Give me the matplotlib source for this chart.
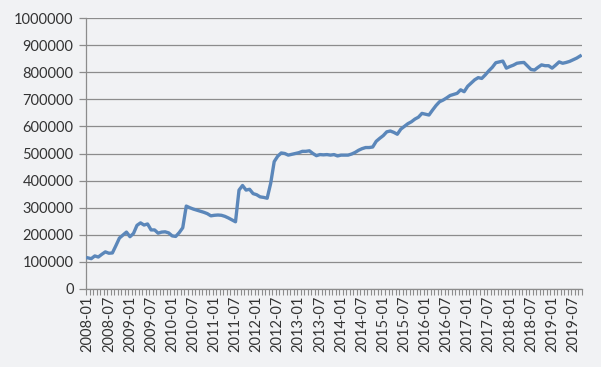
import numpy as np
import pandas as pd
import matplotlib
matplotlib.use("Agg")
import matplotlib.pyplot as plt

# monthly values, 2008-01 .. 2019-09 (thousands)
months = pd.period_range("2008-01", "2019-09", freq="M").strftime("%Y-%m").tolist()
values_k = [
    115, 112, 122, 118, 128, 137, 132, 133, 160, 188, 199, 210,
    193, 205, 235, 244, 236, 240, 218, 218, 206, 210, 211, 207,
    196, 194, 208, 226, 306, 300, 295, 291, 287, 283, 278, 270,
    272, 273, 272, 268, 262, 255, 248, 365, 382, 365, 368, 352,
    348, 340, 338, 335, 390, 470, 490, 502, 500, 494, 497, 500,
    503, 508, 508, 510, 500, 492, 496, 495, 496, 494, 496, 491,
    494, 494, 494, 498, 504, 512, 518, 522, 522, 524, 545, 556,
    566, 580, 583, 578, 571, 590, 600, 610, 617, 627, 634, 648,
    645, 642, 660, 677, 691, 697, 705, 714, 718, 722, 735, 728,
    748, 760, 772, 780, 777, 790, 805, 818, 835, 838, 841, 815,
    821, 826, 833, 835, 836, 823, 810, 808, 818, 827, 824, 824,
    815, 826, 838, 833, 836, 840, 846, 852, 860,
]
values = np.array(values_k) * 1000
y_ticks = list(range(0, 1000001, 100000))

bg = "#F1F2F4"
plt.rcParams["font.family"] = ["Lato", "DejaVu Sans"]

fig = plt.figure(figsize=(6.01, 3.67), dpi=100, facecolor=bg)
ax = fig.add_axes([86 / 601, 78 / 367, 496 / 601, 271 / 367], facecolor=bg)

x = np.arange(len(months))
ax.plot(x, values, color="#5B87BA", lw=2.4, solid_joinstyle="round", zorder=3)

ax.set_xlim(-0.5, len(months) - 0.5)
ax.set_ylim(0, 1000000)
ax.set_yticks(y_ticks)
ax.set_yticklabels([str(v) for v in y_ticks], fontsize=10.5, color="#333333")
ax.yaxis.grid(True, color="#8C8C8C", lw=0.9)
ax.set_axisbelow(True)

label_pos = x[::6]
ax.set_xticks(label_pos)
ax.set_xticklabels([months[i] for i in label_pos], rotation=90, fontsize=10.5,
                   color="#333333")
ax.set_xticks(np.arange(len(months) + 1) - 0.5, minor=True)
ax.tick_params(axis="x", which="major", length=0, pad=5)
ax.tick_params(axis="x", which="minor", length=4, color="#8C8C8C", width=0.8)
ax.tick_params(axis="y", length=5, color="#8C8C8C", width=0.9, pad=4)

for s in ["top", "right"]:
    ax.spines[s].set_visible(False)
for s in ["left", "bottom"]:
    ax.spines[s].set_color("#8C8C8C")
    ax.spines[s].set_linewidth(0.9)

fig.savefig("out.png", dpi=100, facecolor=bg)
